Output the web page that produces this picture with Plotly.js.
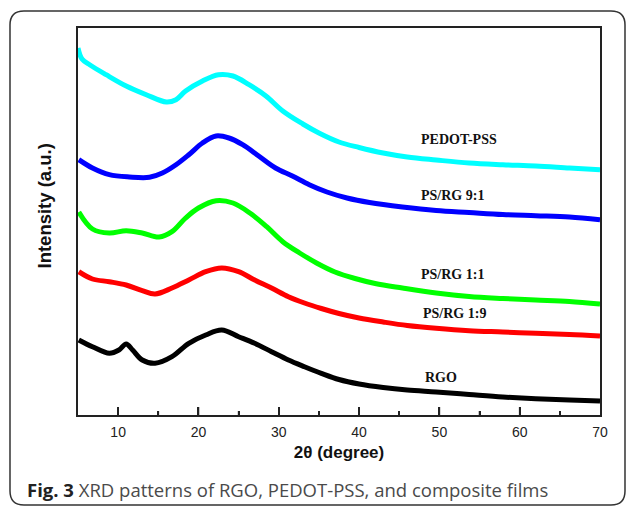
<!DOCTYPE html>
<html>
<head>
<meta charset="utf-8">
<script src="https://cdn.plot.ly/plotly-3.0.1.min.js"></script>
</head>
<body style="margin:0">
<div id="chart"></div>
<script>
// Series (arbitrary intensity units, offset stacked)
const pedotX = [5, 5.5, 6.5, 8.5, 11, 13.5, 16, 17.2, 18.4, 20.5, 22.5, 24.3, 26.3, 28.4, 30.5, 33, 35, 37.5, 40, 43, 46, 49.6, 53.7, 57.9, 62, 66.2, 70];
const pedotY = [367, 356, 350, 340.3, 329, 320.3, 313, 315.3, 324, 334, 340.3, 339, 330.3, 319, 304, 291, 282, 273, 267.5, 262, 258, 255, 252, 250.3, 249, 247, 245.3];

const ps91X = [5.1, 6.8, 8.9, 11.4, 13.9, 15.5, 17.2, 18.8, 20.5, 22.2, 23.8, 25.5, 27.5, 29.6, 31.7, 33.8, 36, 38.5, 41.3, 45.4, 49.6, 53.7, 57.9, 62, 66.2, 70];
const ps91Y = [255.3, 247, 240.3, 238, 237.7, 242, 250.3, 260.3, 272, 279, 277, 270.3, 259, 247, 239, 230.3, 223, 217, 212.5, 208, 204.5, 202.5, 200.5, 199.3, 198, 195.3];

const ps11X = [5.1, 6.8, 8.9, 11, 13, 15.1, 16.7, 18.4, 20, 22.2, 24.3, 26.4, 28.5, 30.5, 32.6, 34.7, 37, 39.5, 42, 45.4, 49.6, 53.7, 57.9, 62, 66.2, 70];
const ps11Y = [203, 186, 182, 184.3, 182, 178, 183.3, 197, 207, 214.3, 212, 202, 188.3, 173.3, 162, 152, 143, 136.5, 131.5, 127, 122, 118.5, 116.5, 115, 113.5, 111];

const ps19X = [5.1, 6.8, 8.9, 11, 13, 14.6, 16.7, 18.8, 20.9, 22.9, 25, 27, 29.1, 31.2, 33.2, 35.3, 37.5, 40, 43, 46, 49.6, 53.7, 57.9, 62, 66.2, 70];
const ps19Y = [143.3, 136, 133.3, 130, 124.3, 121, 127, 135, 143.3, 147, 143.3, 135, 127, 118.3, 112, 106.5, 101.5, 97, 93, 89.5, 86.7, 84.3, 83, 81.7, 80.5, 79];

const rgoX = [5.1, 6.8, 8.9, 10.1, 11, 11.8, 13, 14.6, 16.7, 18.8, 20.9, 22.9, 25, 27, 29.1, 31.2, 33.2, 35.3, 37.5, 40, 43, 46, 49.6, 53.7, 57.9, 62, 66.2, 70];
const rgoY = [75, 68.3, 61.7, 65, 71, 65, 55, 51.7, 58.3, 71.7, 80, 85, 78.3, 71.7, 63.3, 55, 48.3, 41.7, 35.5, 31, 27.5, 25, 23, 20.5, 18, 16.2, 15, 14];

const majorTicks = [10, 20, 30, 40, 50, 60];
const minorTicks = [15, 25, 35, 45, 55, 65];

const names = ['PEDOT-PSS', 'PS/RG 9:1', 'PS/RG 1:1', 'PS/RG 1:9', 'RGO'];
const colors = ['#00FFFF', '#0000FF', '#00FF00', '#FF0000', '#000000'];
const labelX = [47.5, 47.5, 47.5, 47.7, 48.0];
const labelY = [276, 220, 141, 102, 38];

const xs = [pedotX, ps91X, ps11X, ps19X, rgoX];
const ys = [pedotY, ps91Y, ps11Y, ps19Y, rgoY];

const traces = names.map((n, i) => ({
  x: xs[i], y: ys[i], name: n, type: 'scatter', mode: 'lines',
  line: {color: colors[i], width: 5, shape: 'spline', smoothing: 1},
  hoverinfo: 'skip'
}));

// inside tick marks along the bottom axis, built from the tick arrays
// (one y unit equals one pixel of plot height here, so lengths are 8 and 4)
const tickSeg = (vals, len) => ({
  x: vals.flatMap(v => [v, v, null]),
  y: vals.flatMap(() => [0, len, null])
});
const maj = tickSeg(majorTicks, 8), mnr = tickSeg(minorTicks, 4);
traces.push({x: maj.x, y: maj.y, mode: 'lines', cliponaxis: false, hoverinfo: 'skip', connectgaps: false,
  line: {color: '#222', width: 1.6}});
traces.push({x: mnr.x, y: mnr.y, mode: 'lines', cliponaxis: false, hoverinfo: 'skip', connectgaps: false,
  line: {color: '#222', width: 1.6}});

const L = 78, R = 29, T = 28, B = 93, W = 629, H = 508;
const pw = W - L - R, ph = H - T - B;
const px2x = p => (p - L) / pw;
const py2y = p => (H - B - p) / ph;

// rounded figure frame (page decoration), expressed in paper coordinates
const fx1 = 10, fx2 = 625, fy1 = 11, fy2 = 505, fr = 14;
const P = (a, b) => px2x(a).toFixed(5) + ',' + py2y(b).toFixed(5);
const framePath = 'M' + P(fx1 + fr, fy1) + ' L' + P(fx2 - fr, fy1) + ' Q' + P(fx2, fy1) + ' ' + P(fx2, fy1 + fr) +
  ' L' + P(fx2, fy2 - fr) + ' Q' + P(fx2, fy2) + ' ' + P(fx2 - fr, fy2) +
  ' L' + P(fx1 + fr, fy2) + ' Q' + P(fx1, fy2) + ' ' + P(fx1, fy2 - fr) +
  ' L' + P(fx1, fy1 + fr) + ' Q' + P(fx1, fy1) + ' ' + P(fx1 + fr, fy1) + ' Z';

const annotations = names.map((n, i) => ({
  x: labelX[i], y: labelY[i], xref: 'x', yref: 'y', text: '<b>' + n + '</b>',
  showarrow: false, xanchor: 'left', yanchor: 'middle',
  font: {family: 'Liberation Serif, Times New Roman, serif', size: 14, color: '#111'}
}));

annotations.push({
  x: px2x(25), y: py2y(490), xref: 'paper', yref: 'paper',
  text: '<b><span style="color:#222">Fig. 3</span></b> XRD patterns of RGO, PEDOT-PSS, and composite films',
  showarrow: false, xanchor: 'left', yanchor: 'middle',
  font: {family: 'Open Sans, sans-serif', size: 18.5, color: '#4a4a4a'}
});
annotations.push({
  x: px2x(43.5), y: py2y(206), xref: 'paper', yref: 'paper', textangle: -90,
  text: '<b>Intensity (a.u.)</b>', showarrow: false, xanchor: 'center', yanchor: 'middle',
  font: {family: 'Liberation Sans, Arial, sans-serif', size: 18.5, color: '#111'}
});

const layout = {
  width: W, height: H,
  margin: {l: L, r: R, t: T, b: B},
  showlegend: false,
  xaxis: {
    range: [5, 70], dtick: 10, ticks: 'inside', ticklen: 8, tickwidth: 1.6, tickcolor: '#222',
    minor: {ticks: 'inside', ticklen: 4, dtick: 5, tickcolor: '#222', tickwidth: 1.6},
    ticklabelstandoff: 3,
    showline: true, linecolor: '#222', linewidth: 1.6, mirror: true, showgrid: false, zeroline: false,
    tickfont: {family: 'Liberation Sans, Arial, sans-serif', size: 14, color: '#222'},
    title: {text: '<b>2θ (degree)</b>', font: {family: 'Liberation Sans, Arial, sans-serif', size: 17, color: '#111'}, standoff: 8}
  },
  yaxis: {
    range: [0, 387], showticklabels: false, ticks: '',
    showline: true, linecolor: '#222', linewidth: 1.6, mirror: true, showgrid: false, zeroline: false
  },
  shapes: [{type: 'path', xref: 'paper', yref: 'paper', path: framePath, line: {color: '#333', width: 1.5}, layer: 'below'}],
  annotations: annotations
};

Plotly.newPlot('chart', traces, layout, {displayModeBar: false});
</script>
</body>
</html>
